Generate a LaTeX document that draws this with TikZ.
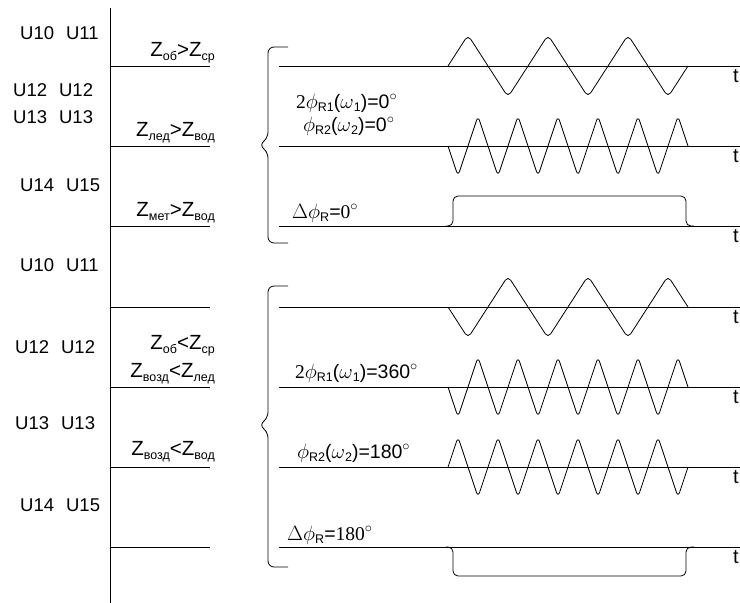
\documentclass[tikz,border=0pt]{standalone}
\usepackage{fontspec}
\setmainfont{Liberation Sans}
\newfontfamily\serif{Liberation Serif}
\usetikzlibrary{positioning}
\newcommand\lo[1]{\raisebox{-0.35ex}{\fontsize{12.5}{12}\selectfont #1}}

\begin{document}
\begin{tikzpicture}[x=1pt,y=-1pt,
    axis/.style={line width=0.8pt},
    wave/.style={line width=0.8pt,rounded corners=5pt},
    brace/.style={line width=0.8pt,rounded corners=6pt},
    ulab/.style={font=\fontsize{18.5}{20}\selectfont,anchor=west,inner sep=0pt},
    zlab/.style={font=\fontsize{20.5}{22}\selectfont,anchor=east,inner sep=0pt},
    plab/.style={font=\fontsize{19.5}{22}\selectfont,anchor=west,inner sep=0pt},
    tlab/.style={font=\fontsize{20}{22}\selectfont,anchor=west,inner sep=0pt}
  ]
    \useasboundingbox (0,0) rectangle (740,603);

    % left scale
    \draw[axis] (110,8) -- (110,603);
    \foreach \y in {66,146,226,307,387,467,547}
      \draw[axis] (110,\y) -- (210,\y);

    \node[ulab] (ua1) at (20,33)  {U10\hspace{12pt}U11};
    \node[ulab] (ua2) at (13,90)  {U12\hspace{12pt}U12};
    \node[ulab] (ua3) at (13,117) {U13\hspace{12pt}U13};
    \node[ulab] (ua4) at (20,185) {U14\hspace{12pt}U15};
    \node[ulab] (ub1) at (20,265) {U10\hspace{12pt}U11};
    \node[ulab] (ub2) at (15,347) {U12\hspace{12pt}U12};
    \node[ulab] (ub3) at (15,423) {U13\hspace{12pt}U13};
    \node[ulab] (ub4) at (20,505) {U14\hspace{12pt}U15};

    \node[zlab] (za1) at (215,53)  {Z\lo{об}>Z\lo{ср}};
    \node[zlab] (za2) at (215,133) {Z\lo{лед}>Z\lo{вод}};
    \node[zlab] (za3) at (215,213) {Z\lo{мет}>Z\lo{вод}};
    \node[zlab] (zb1) at (215,346) {Z\lo{об}<Z\lo{ср}};
    \node[zlab] (zb2) at (215,374) {Z\lo{возд}<Z\lo{лед}};
    \node[zlab] (zb3) at (215,452) {Z\lo{возд}<Z\lo{вод}};

    % braces
    \draw[brace] (288,47) -- (268,47) -- (268,138) -- (259,145)
      -- (268,152) -- (268,243) -- (288,243);
    \draw[brace] (288,286) -- (268,286) -- (268,418) -- (259,425)
      -- (268,432) -- (268,567) -- (288,567);

    % time axes
    \foreach \y [count=\i] in {66,146,226,307,387,467,547} {
      \draw[axis] (279,\y) -- (740,\y);
      \node[tlab] (t\i) at (733,\y+10) {t};
    }

    % first group
    \draw[wave] (448,66) \foreach \k in {0,1,2} {
      -- ({468+80*\k},35) -- ({508+80*\k},97) } -- (688,66);
    \draw[wave] (448,146) \foreach \k in {0,...,5} {
      -- ({458+40*\k},176) -- ({478+40*\k},116) } -- (688,146);
    \draw[wave] (446,226) -- (453,226) -- (453,196) -- (686,196)
      -- (686,226) -- (694,226);

    \node[plab] (pa1) at (296,103) {{\serif 2}$\phi$\lo{R1}($\omega$\lo{1})=0$^\circ$};
    \node[plab,below=4pt of pa1.south west,anchor=north west] (pa2)
      {\hspace{7pt}$\phi$\lo{R2}($\omega$\lo{2})=0$^\circ$};
    \node[plab] (pa3) at (292,213) {{\serif $\Delta\phi$}\lo{R}={\serif 0}$^\circ$};

    % second group
    \draw[wave] (448,307) \foreach \k in {0,1,2} {
      -- ({468+80*\k},338) -- ({508+80*\k},276) } -- (688,307);
    \draw[wave] (448,387) \foreach \k in {0,...,5} {
      -- ({458+40*\k},417) -- ({478+40*\k},357) } -- (688,387);
    \draw[wave] (448,467) \foreach \k in {0,...,5} {
      -- ({458+40*\k},437) -- ({478+40*\k},497) } -- (688,467);
    \draw[wave] (446,547) -- (453,547) -- (453,576) -- (686,576)
      -- (686,547) -- (694,547);

    \node[plab] (pb1) at (295,373) {{\serif 2}$\phi$\lo{R1}($\omega$\lo{1})=360$^\circ$};
    \node[plab] (pb2) at (297,453) {$\phi$\lo{R2}($\omega$\lo{2})=180$^\circ$};
    \node[plab] (pb3) at (287,535) {{\serif $\Delta\phi$}\lo{R}={\serif 180}$^\circ$};
\end{tikzpicture}
\end{document}
